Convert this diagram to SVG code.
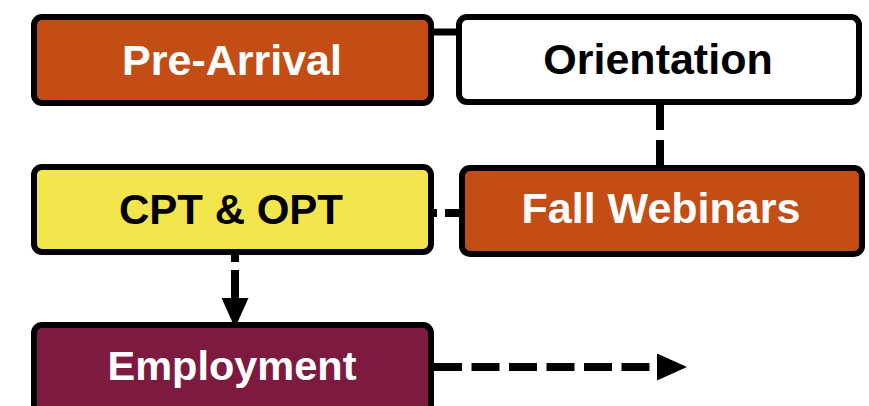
<svg xmlns="http://www.w3.org/2000/svg" width="869" height="406" viewBox="0 0 869 406">
<style>
.box{stroke:#000;stroke-width:6;}
.lbl{font-family:"Liberation Sans",Arial,sans-serif;font-weight:bold;font-size:43px;text-anchor:middle;}
.w{fill:#fff;}
.k{fill:#000;}
.con{fill:none;stroke:#000;stroke-width:8;}
</style>
<defs>
<marker id="ah" markerUnits="userSpaceOnUse" markerWidth="30" markerHeight="27" viewBox="0 0 30 27" refX="0" refY="13.5" orient="auto">
<path d="M0,0 L30,13.5 L0,27 Z" fill="#000"/>
</marker>
</defs>
<rect width="869" height="406" fill="#fff"/>
<g id="connectors">
<path class="con" style="stroke-width:7" d="M434,32 H458"/>
<path class="con" d="M660,102 V166" stroke-dasharray="28 10"/>
<path class="con" d="M459,213 H434" stroke-dasharray="14 8"/>
<path class="con" d="M235,254 V298" stroke-dasharray="8 8 30 100" marker-end="url(#ah)"/>
<path class="con" d="M434,367 H657" stroke-dasharray="28 9.5" marker-end="url(#ah)"/>
</g>
<g id="pre-arrival">
<rect class="box" x="34" y="17" width="397" height="86" rx="8" fill="#C44D16"/>
<text class="lbl w" x="232" y="75">Pre-Arrival</text>
</g>
<g id="orientation">
<rect class="box" x="459" y="17" width="400" height="85" rx="8" fill="#fff"/>
<text class="lbl k" x="658" y="74">Orientation</text>
</g>
<g id="cpt-opt">
<rect class="box" x="34" y="167" width="397" height="85" rx="8" fill="#F2E64C"/>
<text class="lbl k" x="231" y="224" style="font-size:42px">CPT &amp; OPT</text>
</g>
<g id="fall-webinars">
<rect class="box" x="462" y="168" width="400" height="86" rx="8" fill="#C44D16"/>
<text class="lbl w" x="661" y="223">Fall Webinars</text>
</g>
<g id="employment">
<rect class="box" x="34" y="325" width="397" height="100" rx="8" fill="#7D1A40"/>
<text class="lbl w" x="232" y="380" style="font-size:41.5px">Employment</text>
</g>
</svg>
